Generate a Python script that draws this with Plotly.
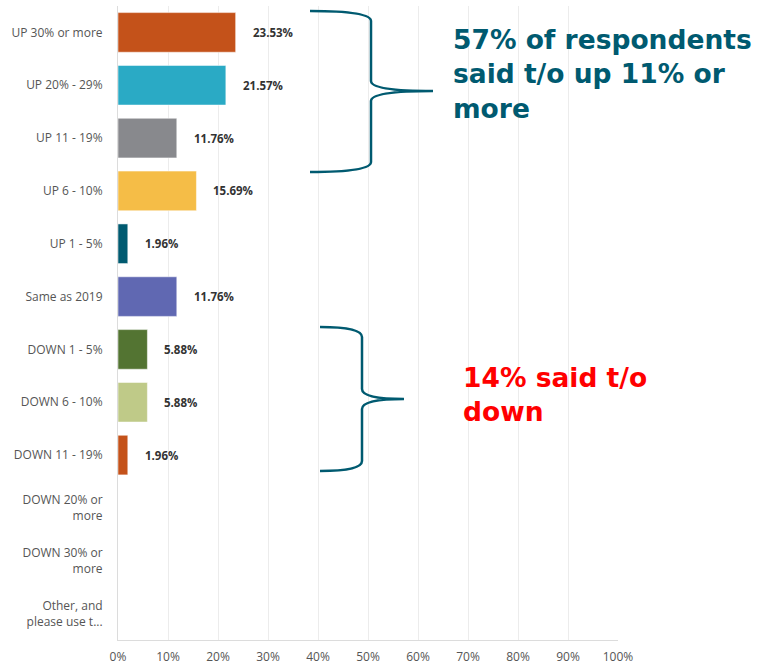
import plotly.graph_objects as go

categories = ["UP 30% or more", "UP 20% - 29%", "UP 11 - 19%", "UP 6 - 10%", "UP 1 - 5%",
              "Same as 2019", "DOWN 1 - 5%", "DOWN 6 - 10%", "DOWN 11 - 19%",
              "DOWN 20% or<br>more", "DOWN 30% or<br>more", "Other, and<br>please use t..."]
values = [23.53, 21.57, 11.76, 15.69, 1.96, 11.76, 5.88, 5.88, 1.96, 0, 0, 0]
colors = ["#c4521a", "#2aaac5", "#88898d", "#f5bd47", "#005a70", "#6068b2",
          "#537432", "#bfca88", "#c4521a", "#cccccc", "#cccccc", "#cccccc"]
tick_vals = list(range(0, 101, 10))
tick_text = [f"{v}%" for v in tick_vals]

W, H = 759, 664
L, R, T, B = 118, 618, 6, 640

def px(x):
    return (x - L) / (R - L)

def py(y):
    return (B - y) / (B - T)

fig = go.Figure()
fig.add_trace(go.Bar(
    y=categories, x=values, orientation="h",
    marker=dict(color=colors, line=dict(color="rgba(255,255,255,0.5)", width=1)),
    width=0.75, hoverinfo="skip"))

annotations = []
for c, v in zip(categories, values):
    if v > 0:
        annotations.append(dict(x=v, y=c, xref="x", yref="y", text=f"<b>{v:.2f}%</b>",
                                showarrow=False, xanchor="left", xshift=15,
                                font=dict(family="Open Sans", size=11.5, color="#333333")))

annotations.append(dict(x=px(451), y=py(22), xref="paper", yref="paper",
                        text="<b>57% of respondents<br>said t/o up 11% or<br>more</b>",
                        showarrow=False, xanchor="left", yanchor="top", align="left",
                        font=dict(family="DejaVu Sans", size=26.5, color="#005a70")))
annotations.append(dict(x=px(461), y=py(360), xref="paper", yref="paper",
                        text="<b>14% said t/o<br>down</b>",
                        showarrow=False, xanchor="left", yanchor="top", align="left",
                        font=dict(family="DejaVu Sans", size=26.5, color="#ff0000")))

def brace(x0, xv, xt, ytop, ymid, ybot):
    # pixel coordinates -> paper
    r = 10
    pts = [
        f"M {px(x0)},{py(ytop)}",
        f"Q {px(xv)},{py(ytop)} {px(xv)},{py(ytop + r)}",
        f"L {px(xv)},{py(ymid - r)}",
        f"Q {px(xv)},{py(ymid)} {px(xt)},{py(ymid)}",
        f"Q {px(xv)},{py(ymid)} {px(xv)},{py(ymid + r)}",
        f"L {px(xv)},{py(ybot - r)}",
        f"Q {px(xv)},{py(ybot)} {px(x0)},{py(ybot)}",
    ]
    return dict(type="path", xref="paper", yref="paper", path=" ".join(pts),
                line=dict(color="#005a70", width=2.5))

shapes = [brace(310, 371, 433, 11, 91, 172), brace(320, 362, 404, 327, 399, 471)]

fig.update_layout(
    width=W, height=H, margin=dict(l=L, r=W - R, t=T, b=H - B, autoexpand=False),
    paper_bgcolor="white", plot_bgcolor="white",
    showlegend=False, bargap=0.25,
    annotations=annotations, shapes=shapes,
    xaxis=dict(range=[0, 100], tickvals=tick_vals, ticktext=tick_text,
               showgrid=True, gridcolor="#ececec", gridwidth=1, zeroline=False,
               showline=True, linecolor="#dcdcdc", linewidth=1,
               ticks="outside", ticklen=6, tickcolor="rgba(0,0,0,0)", automargin=False,
               tickfont=dict(family="Open Sans", size=12, color="#555555"), fixedrange=True),
    yaxis=dict(autorange="reversed", showgrid=False, showline=True, linecolor="#dcdcdc",
               linewidth=1, ticks="", ticklabelstandoff=12, automargin=False,
               tickfont=dict(family="Open Sans", size=12, color="#555555"), fixedrange=True),
    font=dict(family="Open Sans"),
)
fig.write_html("out.html", config={"displayModeBar": False})
